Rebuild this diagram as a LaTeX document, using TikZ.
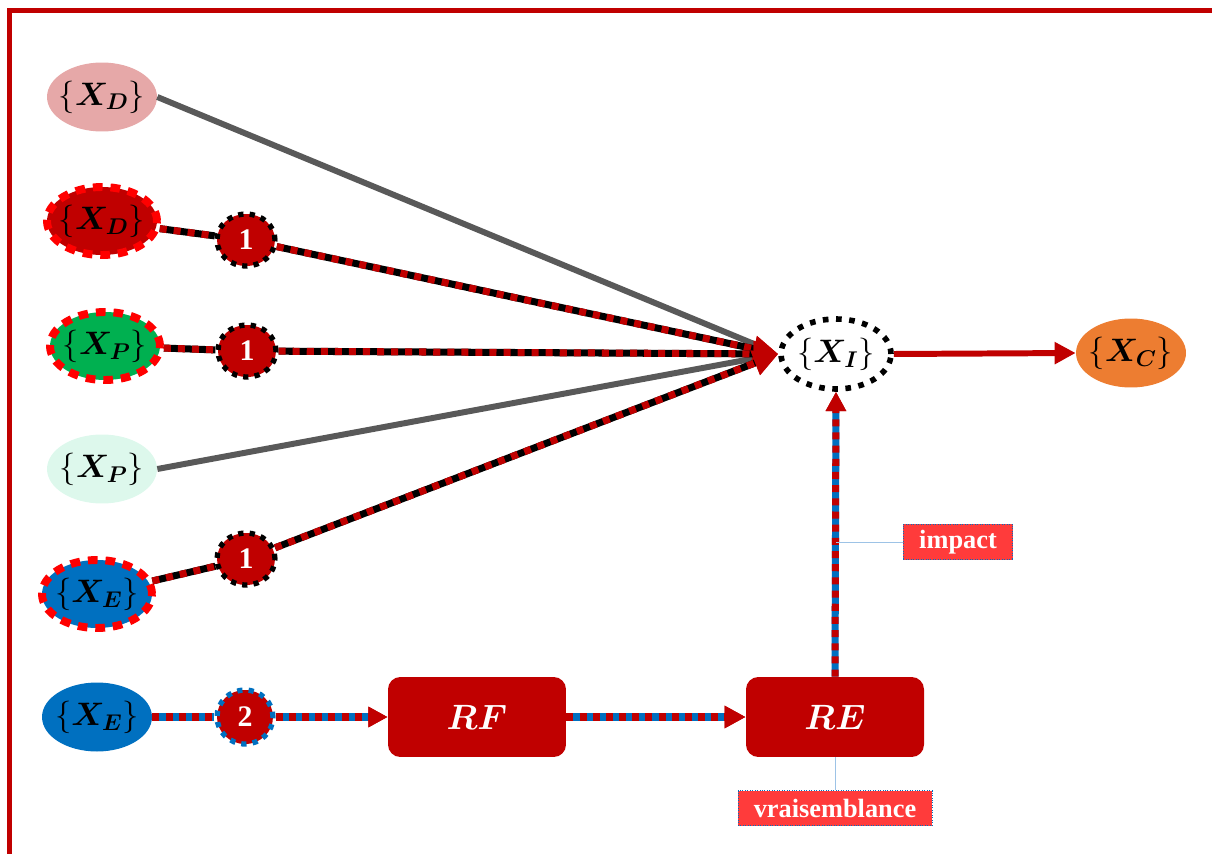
\RequirePackage{fix-cm}
\documentclass[tikz,border=0pt]{standalone}
\usepackage{fontspec}
\setmainfont{Liberation Serif}
\usepackage{bm}
\usetikzlibrary{shapes.geometric,arrows.meta}
\definecolor{DeepRed}{HTML}{C00000}
\definecolor{BrightRed}{HTML}{FF0000}
\definecolor{LabelRed}{HTML}{FF3B3B}
\definecolor{RoseFill}{HTML}{E6A8A8}
\definecolor{MintFill}{HTML}{DDF8EC}
\definecolor{LeafGreen}{HTML}{00B050}
\definecolor{SeaBlue}{HTML}{0070C0}
\definecolor{SunOrange}{HTML}{ED7D31}
\definecolor{LinkGray}{HTML}{595959}
\definecolor{PaleBlue}{HTML}{9DC3E6}
\newcommand{\setx}[1]{$\{\bm{X}_{\bm{#1}}\}$}

\begin{document}
\begin{tikzpicture}[x=0.02cm,y=-0.02cm,
  every node/.style={font=\fontsize{18.5}{22}\selectfont},
  blob/.style={ellipse, inner xsep=-6pt, inner ysep=-2pt, minimum width=2.2cm, minimum height=1.38cm},
  redrim/.style={blob, draw=BrightRed, line width=4.5pt, dash pattern=on 5.5pt off 4.5pt, minimum height=1.36cm},
  relay/.style={ellipse, inner sep=0pt, minimum width=1.16cm, minimum height=1.04cm, fill=DeepRed, text=white,
    font=\fontsize{17}{20}\selectfont\bfseries, line width=3pt, dash pattern=on 3pt off 3.5pt},
  stage/.style={rectangle, rounded corners=7pt, fill=DeepRed, text=white, minimum width=3.56cm, minimum height=1.6cm,
    font=\fontsize{20}{24}\selectfont},
  tag/.style={fill=LabelRed, draw=SeaBlue, densely dotted, thin, text=white, font=\fontsize{15}{18}\selectfont\bfseries,
    inner xsep=9pt, minimum height=0.7cm},
  chain/.style={line width=4pt, draw=black, postaction={draw=DeepRed, dash pattern=on 4pt off 4pt}},
  bluechain/.style={line width=4pt, draw=SeaBlue, postaction={draw=DeepRed, dash pattern=on 4pt off 3.5pt}},
  headto/.style={-{Triangle[length=#1, width=#1, color=DeepRed]}}]
  \useasboundingbox (0,0) rectangle (1212,854);
  \draw[DeepRed, line width=2.7pt] (9.7,854) -- (9.7,10.3) -- (1212,10.3);

  \node[blob, fill=RoseFill] (XD1) at (102,97) {\setx{D}};
  \node[redrim, fill=DeepRed] (XD2) at (102,221) {\setx{D}};
  \node[redrim, fill=LeafGreen] (XP1) at (105,346) {\setx{P}};
  \node[blob, fill=MintFill] (XP2) at (102,469) {\setx{P}};
  \node[redrim, fill=SeaBlue] (XE1) at (97,594) {\setx{E}};
  \node[blob, fill=SeaBlue] (XE2) at (97,717) {\setx{E}};
  \node[relay, draw=black] (R1) at (246,240) {1};
  \node[relay, draw=black] (R2) at (247,351) {1};
  \node[relay, draw=black] (R3) at (246,559) {1};
  \node[relay, draw=SeaBlue, minimum width=1.12cm, minimum height=1.08cm] (R4) at (245,717) {2};
  \node[stage] (RF) at (477,717) {$\bm{RF}$};
  \node[stage] (RE) at (835,717) {$\bm{RE}$};
  \node[blob, draw=black, line width=3.2pt, dash pattern=on 3.2pt off 4.3pt, minimum height=1.4cm] (XI) at (836,354) {\setx{I}};
  \node[blob, fill=SunOrange] (XC) at (1131,353) {\setx{C}};
  \node[tag] (imp) at (958,542) {impact};
  \node[tag] (vrai) at (835,808) {vraisemblance};

  \draw[LinkGray, line width=3.4pt, shorten >=8pt] (XD1.east) -- (XI.west);
  \draw[LinkGray, line width=3.4pt, shorten >=8pt] (XP2.east) -- (XI.west);
  \draw[chain] (XD2) -- (R1);
  \draw[chain, headto=14pt] (R1) -- (XI.west);
  \draw[chain] (XP1) -- (R2);
  \draw[chain, headto=14pt] (R2) -- (XI.west);
  \draw[chain] (XE1) -- (R3);
  \draw[chain, headto=14pt] (R3) -- (XI.west);
  \draw[bluechain] (XE2) -- (R4);
  \draw[bluechain, headto=11pt] (R4) -- (RF.west);
  \draw[bluechain, headto=12pt] (RF.east) -- (RE.west);
  \draw[bluechain, headto=11pt] (RE.north) -- (XI.south);
  \draw[DeepRed, line width=3.4pt, headto=12pt] (XI.east) -- (XC.west);
  \draw[PaleBlue, thin] (imp.west -| XI.south) -- (imp.west);
  \draw[PaleBlue, thin] (RE.south) -- (vrai.north);
\end{tikzpicture}
\end{document}
